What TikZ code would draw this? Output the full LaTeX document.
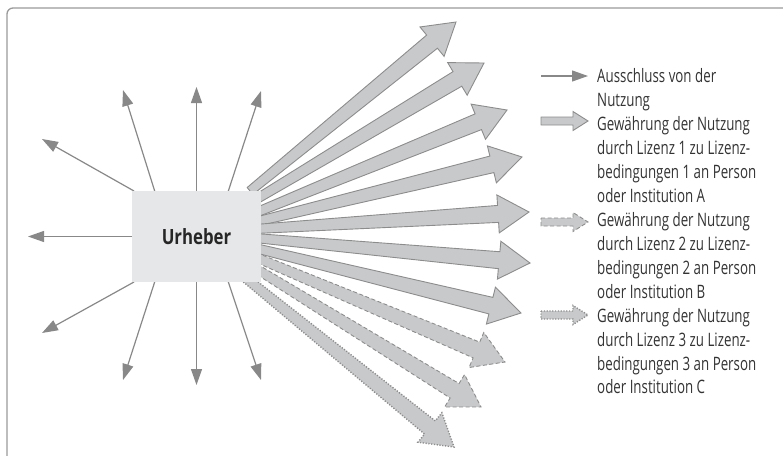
\documentclass[tikz,border=0pt]{standalone}
\usepackage{fontspec}
\setmainfont{Open Sans}[FakeStretch=0.72]
\newfontfamily\urhfont{Open Sans}[FakeStretch=0.8]
\usetikzlibrary{arrows.meta,calc}
\definecolor{framecol}{HTML}{9A9A9A}
\definecolor{thincol}{HTML}{888888}
\definecolor{fancol}{HTML}{C8C9CB}
\definecolor{edgecol}{HTML}{8C8C8C}
\definecolor{boxcol}{HTML}{E6E7E8}
\definecolor{txtcol}{HTML}{333333}
\tikzset{
  thinarr/.style={draw=thincol, line width=1.2pt, -{Triangle[length=16pt,width=11pt]}},
  solidfan/.style={fill=fancol, draw=edgecol, line width=0.9pt, line join=miter},
  dashfan/.style={fill=fancol, draw=edgecol, line width=0.9pt, dash pattern=on 4pt off 2.5pt},
  dotfan/.style={fill=fancol, draw=edgecol, line width=1.4pt, dash pattern=on 1.2pt off 1.6pt},
  legtxt/.style={anchor=base west, inner sep=0pt, text=txtcol, font=\fontsize{18.5}{24}\selectfont},
}
% #1 style, #2 tail coordinate, #3 tip coordinate
\newcommand\fanarr[3]{%
  \coordinate (#2b) at ($(#3)!31pt!(#2)$);
  \path[#1] ($(#2)!4.5pt!90:(#3)$) -- ($(#2b)!8.5pt!90:(#3)$) -- ($(#2b)!19pt!90:(#3)$)
    -- (#3) -- ($(#2b)!19pt!-90:(#3)$) -- ($(#2b)!8.5pt!-90:(#3)$)
    -- ($(#2)!4.5pt!-90:(#3)$) -- cycle;}
\newcommand\legicon[2]{%
  \path[#1] (541,#2-4) -- (573,#2-4) -- (573,#2-9.5) -- (588,#2) -- (573,#2+9.5)
    -- (573,#2+4) -- (541,#2+4) -- cycle;}
\begin{document}
\begin{tikzpicture}[x=1pt,y=-1pt]
\useasboundingbox (0,0) rectangle (783,455);
% frame
\draw[framecol, line width=1.3pt, rounded corners=6pt] (7,456) -- (7,8) -- (784,8);
% fan arrows: tails and tips
\coordinate (t1) at (250,191);  \coordinate (p1) at (456,22);
\coordinate (t2) at (255,200);  \coordinate (p2) at (484,63);
\coordinate (t3) at (255,213);  \coordinate (p3) at (507,110);
\coordinate (t4) at (255,222);  \coordinate (p4) at (522,157);
\coordinate (t5) at (255,229);  \coordinate (p5) at (529,212);
\coordinate (t6) at (255,238);  \coordinate (p6) at (530,263);
\coordinate (t7) at (255,248);  \coordinate (p7) at (521,313);
\coordinate (t8) at (255,257);  \coordinate (p8) at (505,362);
\coordinate (t9) at (255,268);  \coordinate (p9) at (481,407);
\coordinate (t10) at (242,275); \coordinate (p10) at (454,447);
\fanarr{solidfan}{t1}{p1}
\fanarr{solidfan}{t2}{p2}
\fanarr{solidfan}{t3}{p3}
\fanarr{solidfan}{t4}{p4}
\fanarr{solidfan}{t5}{p5}
\fanarr{solidfan}{t6}{p6}
\fanarr{solidfan}{t7}{p7}
\fanarr{dashfan}{t8}{p8}
\fanarr{dashfan}{t9}{p9}
\fanarr{dotfan}{t10}{p10}
% thin arrows
\coordinate (sW) at (134,236.5);  \coordinate (eW) at (28,236.5);
\coordinate (sNW) at (134,191);   \coordinate (eNW) at (42,139);
\coordinate (sNl) at (155,192);   \coordinate (eNl) at (123,90);
\coordinate (sN) at (196.5,192);  \coordinate (eN) at (196.5,87);
\coordinate (sNr) at (228,192);   \coordinate (eNr) at (261,91);
\coordinate (sSW) at (134,282);   \coordinate (eSW) at (42,333);
\coordinate (sSl) at (155,281);   \coordinate (eSl) at (123,380);
\coordinate (sS) at (196.5,281);  \coordinate (eS) at (196.5,385);
\coordinate (sSr) at (228,281);   \coordinate (eSr) at (261,380);
\foreach \a in {W,NW,Nl,N,Nr,SW,Sl,S,Sr} \draw[thinarr] (s\a) -- (e\a);
% author box
\node[fill=boxcol, minimum width=129pt, minimum height=91pt, inner sep=0pt,
  font=\urhfont\bfseries\fontsize{21}{24}\selectfont, text=black!85] (urh) at (196.5,236.5) {Urheber};
% legend icons
\coordinate (la) at (541,76); \coordinate (lb) at (588,76);
\draw[thinarr] (la) -- (lb);
\legicon{solidfan}{121}
\legicon{dashfan}{222}
\legicon{dotfan}{315}
% legend text
\node[legtxt] (g1) at (597,82) {Ausschluss von der};
\node[legtxt] (g2) at (597,106) {Nutzung};
\node[legtxt] (g3) at (597,130) {Gewährung der Nutzung};
\node[legtxt] (g4) at (597,154) {durch Lizenz 1 zu Lizenz-};
\node[legtxt] (g5) at (597,178) {bedingungen 1 an Person};
\node[legtxt] (g6) at (597,202) {oder Institution A};
\node[legtxt] (g7) at (597,226) {Gewährung der Nutzung};
\node[legtxt] (g8) at (597,250) {durch Lizenz 2 zu Lizenz-};
\node[legtxt] (g9) at (597,274) {bedingungen 2 an Person};
\node[legtxt] (g10) at (597,298) {oder Institution B};
\node[legtxt] (g11) at (597,322) {Gewährung der Nutzung};
\node[legtxt] (g12) at (597,346) {durch Lizenz 3 zu Lizenz-};
\node[legtxt] (g13) at (597,370) {bedingungen 3 an Person};
\node[legtxt] (g14) at (597,393) {oder Institution C};
\end{tikzpicture}
\end{document}
